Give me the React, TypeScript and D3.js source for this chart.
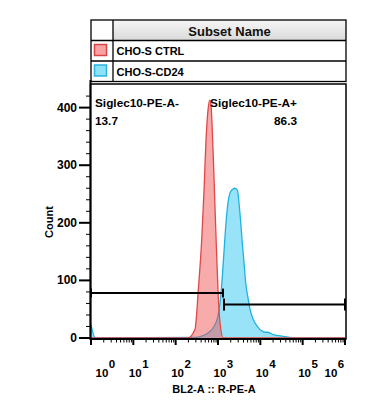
import { useEffect, useRef } from "react";
import * as d3 from "d3";

const W = 367;
const H = 412;
const FONT = "'Liberation Sans', Arial, Helvetica, sans-serif";

// plot frame
const P = { left: 91, right: 346, top: 84, bottom: 339 };

// legend
const subsetNames = ["CHO-S CTRL", "CHO-S-CD24"];
const subsetFill = ["#f7a3a3", "#8ce3f7"];
const subsetStroke = ["#d94545", "#2ab4de"];

// axes
const xDecades = [0, 1, 2, 3, 4, 5, 6];
const yTicks = [0, 100, 200, 300, 400];
const yMinor = [20, 40, 60, 80, 120, 140, 160, 180, 220, 240, 260, 280, 320, 340, 360, 380, 420];
const yMax = 441;

// histograms: [BL2-A intensity, count]
const ctrlData: [number, number][] = [
  [1, 0], [100, 0], [195, 0], [286, 15], [343, 84], [412, 170], [468, 257], [521, 344],
  [585, 398], [640, 413], [690, 400], [735, 358], [774, 314], [849, 228], [933, 141],
  [1016, 72], [1114, 27], [1334, 0], [1e6, 0],
];
const cd24Data: [number, number][] = [
  [1, 23], [1.26, 0], [302, 1], [443, 4], [614, 10], [805, 20], [973, 35], [1114, 60],
  [1245, 100], [1387, 150], [1545, 200], [1722, 235], [1923, 252], [2203, 258], [2523, 260],
  [2891, 256], [3141, 234], [3443, 200], [3750, 165], [4111, 131], [4508, 96], [5023, 73],
  [5702, 50], [6823, 32], [8954, 18], [12912, 10], [14622, 10], [20277, 6], [34914, 3],
  [72444, 0], [1e6, 0],
];

// gates
const gateNames = ["Siglec10-PE-A-", "Siglec10-PE-A+"];
const gatePercents = ["13.7", "86.3"];
const gateRanges: [number, number][] = [[1, 1313], [1387, 1e6]];
const gateLevels = [78, 58];

export default function App() {
  const svgRef = useRef<SVGSVGElement | null>(null);

  useEffect(() => {
    const el = svgRef.current;
    if (!el) return;
    const svg = d3.select(el);
    svg.selectAll("*").remove();

    const x = d3.scaleLog().domain([1, 1e6]).range([P.left, P.right - 1]);
    const y = d3.scaleLinear().domain([0, yMax]).range([P.bottom - 1, P.top]);

    svg.append("rect").attr("width", W).attr("height", H).attr("fill", "#fff");

    // ---- legend table
    const defs = svg.append("defs");
    const grad = defs.append("linearGradient").attr("id", "hdr").attr("x1", 0).attr("x2", 0).attr("y1", 0).attr("y2", 1);
    grad.append("stop").attr("offset", "0%").attr("stop-color", "#f6f6f6");
    grad.append("stop").attr("offset", "100%").attr("stop-color", "#dadada");

    const tX0 = 91, tX1 = 346, tCol = 113, tY0 = 20, rowH = 20.5;
    svg.append("rect").attr("x", tCol).attr("y", tY0).attr("width", tX1 - tCol).attr("height", rowH)
      .attr("fill", "url(#hdr)");
    svg.append("rect").attr("x", tX0).attr("y", tY0).attr("width", tX1 - tX0).attr("height", rowH * 3)
      .attr("fill", "none").attr("stroke", "#000").attr("stroke-width", 1.3);
    svg.append("line").attr("x1", tCol).attr("x2", tCol).attr("y1", tY0).attr("y2", tY0 + rowH * 3)
      .attr("stroke", "#000").attr("stroke-width", 1.3);
    [1, 2].forEach(i => {
      svg.append("line").attr("x1", tX0).attr("x2", tX1).attr("y1", tY0 + rowH * i).attr("y2", tY0 + rowH * i)
        .attr("stroke", "#000").attr("stroke-width", 1.3);
    });
    svg.append("text").attr("x", (tCol + tX1) / 2).attr("y", tY0 + 15.5).attr("text-anchor", "middle")
      .attr("font-family", FONT).attr("font-weight", "bold").attr("font-size", 13).attr("fill", "#111")
      .text("Subset Name");
    subsetNames.forEach((name, i) => {
      const ry = tY0 + rowH * (i + 1);
      svg.append("rect").attr("x", 94.5).attr("y", ry + 4).attr("width", 12).attr("height", 11)
        .attr("fill", subsetFill[i]).attr("stroke", subsetStroke[i]).attr("stroke-width", 1.5);
      svg.append("text").attr("x", 116.5).attr("y", ry + 14.5)
        .attr("font-family", FONT).attr("font-weight", "bold").attr("font-size", 11).attr("fill", "#000")
        .text(name);
    });

    // ---- histograms
    const area = d3.area<[number, number]>()
      .x(d => x(d[0])).y0(y(0)).y1(d => y(d[1])).curve(d3.curveMonotoneX);
    const line = d3.line<[number, number]>()
      .x(d => x(d[0])).y(d => y(d[1])).curve(d3.curveMonotoneX);

    const plot = svg.append("g");
    plot.append("path").datum(cd24Data).attr("d", area).attr("fill", "#7fdcf6").attr("fill-opacity", 0.8);
    plot.append("path").datum(cd24Data).attr("d", line).attr("fill", "none")
      .attr("stroke", "#1fb2e0").attr("stroke-width", 1.3);
    plot.append("path").datum(ctrlData).attr("d", area).attr("fill", "#f05050").attr("fill-opacity", 0.48);
    plot.append("path").datum(ctrlData).attr("d", line).attr("fill", "none")
      .attr("stroke", "#e04848").attr("stroke-width", 1.3);

    // ---- gates
    gateRanges.forEach(([a, b], i) => {
      const gy = y(gateLevels[i]);
      const h = i === 0 ? 4.5 : 6;
      svg.append("line").attr("x1", x(a)).attr("x2", x(b)).attr("y1", gy).attr("y2", gy)
        .attr("stroke", "#000").attr("stroke-width", 2);
      [a, b].forEach(v => {
        svg.append("line").attr("x1", x(v)).attr("x2", x(v)).attr("y1", gy - h).attr("y2", gy + h)
          .attr("stroke", "#000").attr("stroke-width", 2);
      });
    });
    const gText = (t: string, gx: number, gy: number, anchor: string) =>
      svg.append("text").attr("x", gx).attr("y", gy).attr("text-anchor", anchor)
        .attr("font-family", FONT).attr("font-weight", "bold").attr("font-size", 11.8).attr("fill", "#000").text(t);
    gText(gateNames[0], 95, 107, "start");
    gText(gatePercents[0], 95, 125, "start");
    gText(gateNames[1], 297, 107, "end");
    gText(gatePercents[1], 297, 125, "end");

    // ---- frame
    svg.append("rect").attr("x", P.left - 0.5).attr("y", P.top).attr("width", P.right - P.left + 0.5)
      .attr("height", P.bottom - P.top).attr("fill", "none").attr("stroke", "#000").attr("stroke-width", 1.5);
    svg.append("line").attr("x1", P.left - 0.5).attr("x2", P.left - 0.5).attr("y1", P.top - 4).attr("y2", P.bottom + 1)
      .attr("stroke", "#000").attr("stroke-width", 2);
    svg.append("line").attr("x1", P.left - 1).attr("x2", P.right).attr("y1", P.bottom).attr("y2", P.bottom)
      .attr("stroke", "#000").attr("stroke-width", 2);

    // ---- y axis
    yTicks.forEach(v => {
      svg.append("line").attr("x1", 79).attr("x2", P.left - 1).attr("y1", y(v)).attr("y2", y(v))
        .attr("stroke", "#000").attr("stroke-width", 2);
      svg.append("text").attr("x", 77).attr("y", y(v) + 4).attr("text-anchor", "end")
        .attr("font-family", FONT).attr("font-weight", "bold").attr("font-size", 12).attr("fill", "#000")
        .text(v);
    });
    yMinor.forEach(v => {
      svg.append("line").attr("x1", 86).attr("x2", P.left - 1).attr("y1", y(v)).attr("y2", y(v))
        .attr("stroke", "#000").attr("stroke-width", 1);
    });
    svg.append("text").attr("transform", `translate(53,222) rotate(-90)`).attr("text-anchor", "middle")
      .attr("font-family", FONT).attr("font-weight", "bold").attr("font-size", 11).attr("fill", "#000")
      .text("Count");

    // ---- x axis
    xDecades.forEach(k => {
      const v = Math.pow(10, k);
      const px = x(v);
      svg.append("line").attr("x1", px).attr("x2", px).attr("y1", P.bottom).attr("y2", P.bottom + 6)
        .attr("stroke", "#000").attr("stroke-width", 2);
      if (k < 6) {
        for (let m = 2; m <= 9; m++) {
          const mx = x(m * v);
          svg.append("line").attr("x1", mx).attr("x2", mx).attr("y1", P.bottom).attr("y2", P.bottom + 3.5)
            .attr("stroke", "#000").attr("stroke-width", 1);
        }
      }
      const c = Math.max(102, Math.min(331, px + 2));
      const t = svg.append("text").attr("x", c - 6.5).attr("y", 377)
        .attr("font-family", FONT).attr("font-weight", "bold").attr("font-size", 11.5).attr("fill", "#000");
      t.append("tspan").text("10");
      t.append("tspan").attr("dx", 0.5).attr("dy", -9).text(k);
    });
    svg.append("text").attr("x", 214).attr("y", 393).attr("text-anchor", "middle")
      .attr("font-family", FONT).attr("font-weight", "bold").attr("font-size", 11).attr("fill", "#000")
      .text("BL2-A :: R-PE-A");
  }, []);

  return (
    <svg ref={svgRef} width={W} height={H}
      style={{ position: "absolute", left: 0, top: 0, display: "block" }} />
  );
}
